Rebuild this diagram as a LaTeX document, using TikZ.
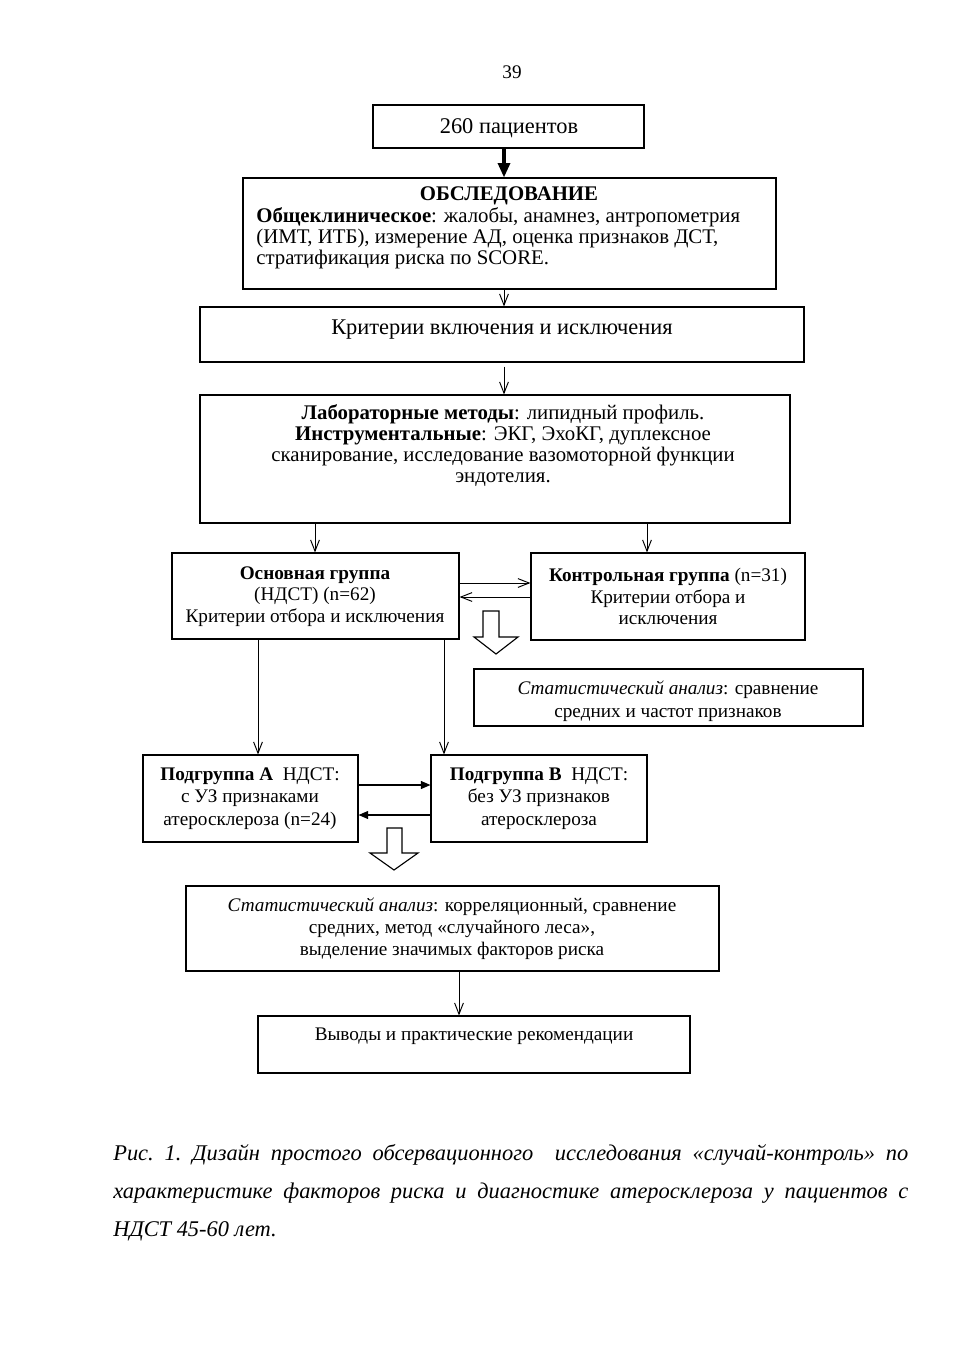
\documentclass[tikz,border=0pt]{standalone}
\usepackage{fontspec}
\setmainfont{Liberation Serif}
\usetikzlibrary{arrows.meta,fit}
\begin{document}
\begin{tikzpicture}[x=0.6245pt,y=-0.6245pt,
  box/.style={draw, line width=0.7pt, inner sep=0pt},
  big/.style={font=\fontsize{14}{13.1}\selectfont, align=center, inner sep=0pt},
  mid/.style={font=\fontsize{13}{13.1}\selectfont, align=center, inner sep=0pt},
  small/.style={font=\fontsize{12}{13.6}\selectfont, align=center, inner sep=0pt},
  varr/.style={-{Straight Barb[length=7pt,width=5.5pt]}, line width=0.6pt},
  farr/.style={-{Triangle[length=6pt,width=5pt]}, line width=0.7pt},
  blk/.style={draw, line width=0.7pt, fill=white, line join=miter}]
\useasboundingbox (0,0) rectangle (953,1350);
\node[font=\fontsize{12}{14}\selectfont] (pg) at (512,72) {39};
% boxes
\node[box, fit={(373,105) (644,148)}] (b1) {};
\node[box, fit={(243,178) (776,289)}] (b2) {};
\node[box, fit={(200,307) (804,362)}] (b3) {};
\node[box, fit={(200,395) (790,523)}] (b4) {};
\node[box, fit={(172,553) (459,639)}] (b5) {};
\node[box, fit={(531,553) (805,640)}] (b6) {};
\node[box, fit={(474,669) (863,726)}] (b7) {};
\node[box, fit={(143,755) (358,842)}] (b8) {};
\node[box, fit={(431,755) (647,842)}] (b9) {};
\node[box, fit={(186,886) (719,971)}] (b10) {};
\node[box, fit={(258,1016) (690,1073)}] (b11) {};
% texts
\node[big] (t1) at (509,128) {260 пациентов};
\node[mid] (t2a) at (509,196) {\textbf{ОБСЛЕДОВАНИЕ}};
\node[mid, align=left, anchor=west] (t2b) at (256,238) {\textbf{Общеклиническое}: жалобы, анамнез, антропометрия\\(ИМТ, ИТБ), измерение АД, оценка признаков ДСТ,\\стратификация риска по SCORE.};
\node[big] (t3) at (502,330) {Критерии включения и исключения};
\node[mid] (t4) at (503,445.5) {\textbf{Лабораторные методы}: липидный профиль.\\\textbf{Инструментальные}: ЭКГ, ЭхоКГ, дуплексное\\сканирование, исследование вазомоторной функции\\эндотелия.};
\node[small] (t5) at (315,596.5) {\textbf{Основная группа}\\(НДСТ) (n=62)\\Критерии отбора и исключения};
\node[small] (t6) at (668,596.5) {\textbf{Контрольная группа} (n=31)\\Критерии отбора и\\исключения};
\node[small, font=\fontsize{12}{14.4}\selectfont] (t7) at (668,701.5) {\textit{Статистический анализ}: сравнение\\средних и частот признаков};
\node[small, font=\fontsize{12}{14}\selectfont] (t8) at (250,798.5) {\textbf{Подгруппа А}\ \ НДСТ:\\с УЗ признаками\\атеросклероза (n=24)};
\node[small, font=\fontsize{12}{14}\selectfont] (t9) at (539,798.5) {\textbf{Подгруппа В}\ \ НДСТ:\\без УЗ признаков\\атеросклероза};
\node[small] (t10) at (452,928.5) {\textit{Статистический анализ}: корреляционный, сравнение\\средних, метод «случайного леса»,\\выделение значимых факторов риска};
\node[small] (t11) at (474,1036) {Выводы и практические рекомендации};
\node[inner sep=0pt, anchor=west] (cap) at (113,1193) {\parbox{496.5pt}{\fontsize{14}{23.7}\selectfont\itshape\frenchspacing\hyphenpenalty=10000\parindent=0pt
Рис. 1. Дизайн простого обсервационного \ исследования «случай-контроль» по\linebreak
характеристике факторов риска и диагностике атеросклероза у пациентов с\linebreak
НДСТ 45-60 лет.}};
% connectors
\draw[line width=2pt, -{Triangle[length=9pt,width=7.5pt]}] (b1.south -| 504,0) -- (b2.north -| 504,0);
\draw[varr] (b2.south -| 504,0) -- (b3.north -| 504,0);
\draw[varr] (b3.south -| 504,0) ++(0,4) -- (b4.north -| 504,0);
\coordinate (cl) at (315,0);
\coordinate (cr) at (647,0);
\draw[varr] (b4.south -| cl) -- (b5.north -| cl);
\draw[varr] (b4.south -| cr) -- (b6.north -| cr);
\coordinate (ya) at (0,583);
\coordinate (yb) at (0,597);
\draw[varr] (b5.east |- ya) -- (b6.west |- ya);
\draw[varr] (b6.west |- yb) -- (b5.east |- yb);
\coordinate (c8) at (258,0);
\coordinate (c9) at (444,0);
\draw[varr] (b5.south -| c8) -- (b8.north -| c8);
\draw[varr] (b5.south -| c9) -- (b9.north -| c9);
\coordinate (yc) at (0,785);
\coordinate (yd) at (0,815);
\draw[farr] (b8.east |- yc) -- (b9.west |- yc);
\draw[farr] (b9.west |- yd) -- (b8.east |- yd);
\coordinate (c10) at (459,0);
\draw[varr] (b10.south -| c10) -- (b11.north -| c10);
% hollow block arrows
\draw[blk] (483,611) -- (499,611) -- (499,637) -- (518,637) -- (496,654) -- (474,637) -- (483,637) -- cycle;
\draw[blk] (387,828) -- (402,828) -- (402,853) -- (418,853) -- (394,870) -- (370,853) -- (387,853) -- cycle;
\end{tikzpicture}
\end{document}
